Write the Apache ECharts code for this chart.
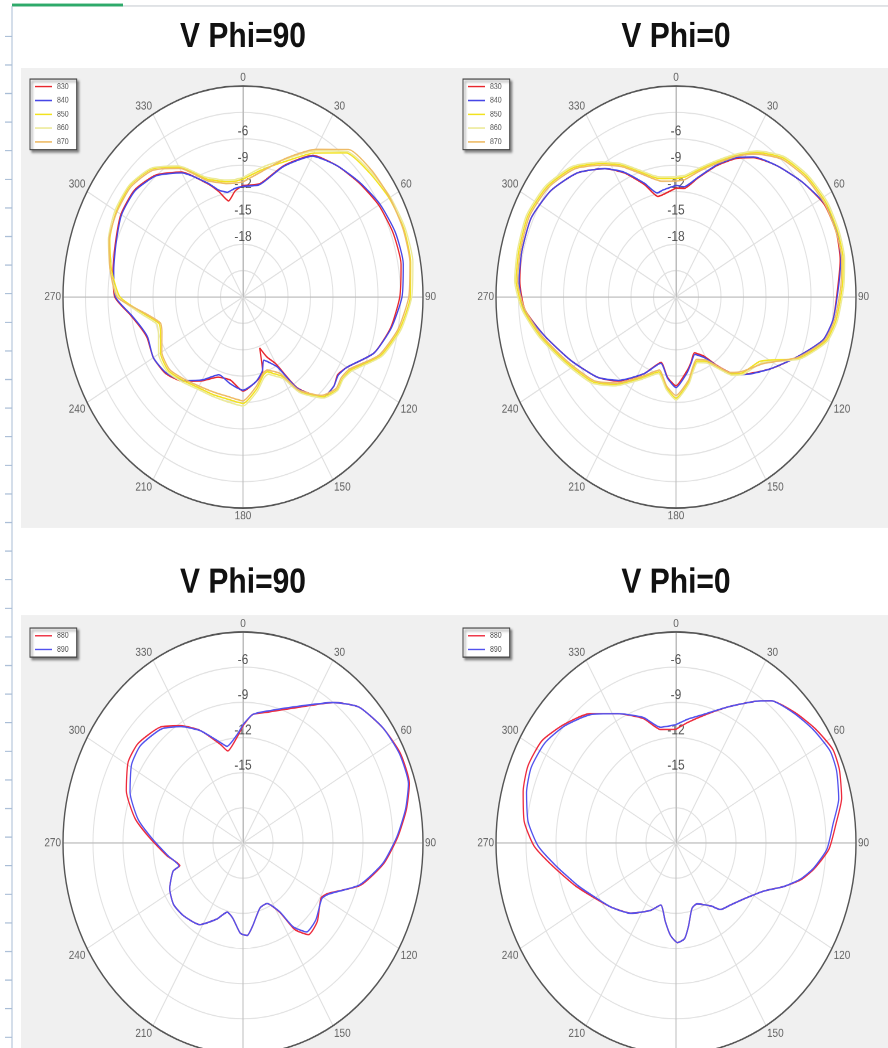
<!DOCTYPE html>
<html>
<head>
<meta charset="utf-8" />
<title>V Phi</title>
<script src="https://cdn.jsdelivr.net/npm/echarts@6/dist/echarts.min.js"></script>
<style>
  html, body { margin: 0; padding: 0; background: #fff; overflow: hidden; }
  /* the source screenshot is stretched vertically, so the whole chart is scaled in y */
  #main { position: absolute; left: 0; top: 0; width: 888px; height: 894px;
          transform: scaleY(1.17226); transform-origin: 0 0; }
</style>
</head>
<body>
<div id="main"></div>
<script type="text/javascript">
// ---- data (dB, angle in degrees clockwise from top) ----
var topFreqs = ['830', '840', '850', '860', '870'];
var bottomFreqs = ['880', '890'];
var topRadiusLabels = [-6, -9, -12, -15, -18];
var bottomRadiusLabels = [-6, -9, -12, -15];

// upper left: V Phi=90
var tlAngles = [0,10,20,30,40,50,60,70,80,90, 100,110,120,125,130,137,145,150,155,159,
  163,170,180,190,200,210,220,230,240,250, 255,262,270,280,290,300,310,320,330,340, 345,350,355];
var tl830 = [-11.3,-10.9,-8.1,-5.4,-4.5,-3.8,-3.1,-2.7,-2.6,-3.1, -4.0,-5.4,-8.0,-8.6,-8.2,-8.4,-11.4,-15.2,-16.5,-17.8,
  -15.0,-14.2,-13.3,-14.4,-14.3,-13.0,-11.5,-10.5,-10.2,-10.4, -10.0,-8.9,-6.9,-6.4,-5.9,-5.2,-5.1,-5.9,-7.6,-10.3, -11.6,-12.9,-11.9];
var tl840 = [-11.4,-11.0,-8.2,-5.5,-4.5,-3.7,-2.9,-2.4,-2.3,-2.8, -3.9,-5.4,-8.0,-8.5,-8.2,-8.4,-11.3,-14.8,-15.8,-16.3,
  -15.2,-14.2,-13.4,-14.0,-14.6,-13.1,-11.6,-10.6,-10.2,-10.5, -10.1,-9.0,-7.0,-6.5,-6.0,-5.3,-5.2,-6.0,-7.7,-10.2, -11.4,-11.9,-11.6];
var tl850 = [-10.6,-9.3,-7.6,-5.1,-2.6,-2.0,-1.5,-1.2,-1.3,-1.7, -2.8,-4.5,-7.4,-7.8,-7.6,-8.5,-10.9,-13.6,-14.4,-14.9,
  -14.7,-13.4,-11.9,-12.2,-12.2,-12.1,-11.6,-11.0,-11.3,-12.3, -12.4,-10.6,-7.6,-6.2,-5.1,-4.5,-4.3,-5.0,-6.9,-9.7, -10.3,-10.7,-10.8];
var tl860 = [-10.4,-9.0,-7.3,-4.8,-2.4,-1.8,-1.3,-1.0,-1.0,-1.5, -2.6,-4.3,-7.2,-7.7,-7.5,-8.3,-10.7,-13.3,-14.1,-14.6,
  -14.4,-13.1,-11.6,-11.9,-12.0,-11.9,-11.4,-10.8,-11.0,-12.0, -12.1,-10.3,-7.4,-6.0,-4.9,-4.3,-4.2,-4.9,-6.8,-9.5, -10.1,-10.5,-10.6];
var tl870 = [-10.9,-9.5,-7.2,-4.6,-2.1,-1.6,-1.4,-1.3,-1.4,-1.9, -3.0,-4.7,-7.6,-8.0,-7.8,-8.7,-11.1,-13.9,-14.7,-15.1,
  -14.9,-13.7,-12.2,-12.5,-12.5,-12.3,-11.8,-11.2,-11.5,-12.5, -12.6,-10.8,-7.2,-6.0,-5.0,-4.6,-4.5,-5.2,-7.1,-9.9, -10.5,-10.9,-11.0];

// upper right: V Phi=0
var trAngles = [0,5,12,20,27,33,42,52,62,71, 79,87,97,104,113,123,134,140,145,151,
  159,165,170,180,187,195,206,219,229,243, 256,266,275,284,295,306,317,327,334,342, 348,352];
var tr830 = [-11.6,-11.6,-10.2,-8.1,-6.3,-5.1,-3.9,-2.7,-1.6,-1.4, -1.7,-2.4,-2.9,-3.8,-6.5,-9.0,-11.4,-12.8,-14.5,-16.3,
  -17.2,-16.3,-15.5,-13.9,-14.8,-16.3,-14.3,-11.7,-10.1,-8.2, -5.9,-3.8,-3.1,-2.8,-2.7,-3.4,-4.7,-6.6,-8.3,-10.6, -12.3,-12.2];
var tr840 = [-11.3,-11.4,-10.1,-8.0,-6.2,-5.0,-3.9,-2.7,-1.5,-1.3, -1.6,-2.3,-2.9,-3.8,-6.5,-9.0,-11.3,-12.7,-14.4,-16.1,
  -17.0,-16.2,-15.3,-13.7,-14.7,-16.2,-14.3,-11.8,-10.1,-8.2, -5.9,-3.7,-3.0,-2.8,-2.7,-3.4,-4.7,-6.6,-8.2,-10.4, -11.9,-11.7];
var tr850 = [-10.5,-10.3,-9.2,-7.6,-5.9,-4.4,-2.7,-1.8,-1.3,-1.2, -1.3,-1.8,-2.5,-3.4,-6.2,-10.6,-11.6,-12.6,-14.2,-15.6,
  -16.2,-15.4,-14.2,-12.5,-13.6,-15.2,-13.8,-11.2,-9.3,-7.6, -5.4,-3.6,-2.6,-2.4,-2.2,-2.7,-3.9,-5.9,-7.3,-9.1, -10.1,-10.4];
var tr860 = [-10.3,-10.1,-9.0,-7.4,-5.7,-4.2,-2.5,-1.6,-1.1,-1.0, -1.1,-1.6,-2.3,-3.2,-6.0,-10.3,-11.4,-12.4,-14.0,-15.4,
  -16.0,-15.2,-14.0,-12.3,-13.4,-15.0,-13.6,-11.0,-9.1,-7.4, -5.2,-3.4,-2.4,-2.2,-2.0,-2.5,-3.7,-5.7,-7.1,-8.9, -9.9,-10.2];
var tr870 = [-10.8,-10.6,-9.4,-7.8,-6.0,-4.6,-2.9,-2.0,-1.5,-1.4, -1.5,-2.0,-2.7,-3.6,-6.4,-10.1,-11.8,-12.8,-14.4,-15.8,
  -16.4,-15.6,-14.4,-12.8,-13.8,-15.4,-14.0,-11.4,-9.5,-7.8, -5.6,-3.8,-2.8,-2.6,-2.4,-2.9,-4.1,-6.1,-7.5,-9.3, -10.3,-10.7];

// lower left: V Phi=90
var blAngles = [0,5,12,26,37,45,55,64,73,80, 88,97,107,117,121,132,140,145,148,155,
  163,172,177,182,189,195,202,212,224,233, 242,251,253,262,273,281,291,301,309,320, 328,336,345,349,356];
var bl880 = [-11.0,-10.0,-9.6,-8.1,-6.0,-4.6,-3.9,-3.5,-3.6,-4.4, -5.5,-6.8,-8.7,-11.5,-11.9,-11.0,-10.8,-12.0,-14.0,-15.3,
  -15.2,-13.9,-13.1,-13.3,-14.5,-14.9,-14.0,-12.8,-12.4,-12.3, -12.7,-13.6,-14.4,-13.3,-11.6,-10.0,-8.5,-7.6,-7.5,-8.1, -9.2,-10.5,-12.3,-13.0,-12.0];
var bl890 = [-10.9,-10.0,-9.5,-8.0,-6.0,-4.6,-3.9,-3.6,-3.7,-4.5, -5.6,-6.9,-8.8,-11.4,-11.8,-11.2,-11.1,-12.3,-14.1,-15.3,
  -15.2,-13.9,-13.1,-13.3,-14.5,-14.9,-14.0,-12.8,-12.4,-12.3, -12.7,-13.6,-14.3,-13.4,-11.8,-10.3,-8.9,-8.0,-7.8,-8.3, -9.3,-10.5,-12.1,-12.6,-11.8];

// lower right: V Phi=0
var brAngles = [0,6,14,24,33,38,47,55,63,69, 77,84,92,99,104,109,115,125,134,142,
  147,158,164,170,174,179,184,189,196,204, 217,230,241,250,261,269,277,286,294,303, 312,322,332,343,351];
var br880 = [-11.3,-10.7,-9.8,-8.3,-6.6,-5.6,-4.7,-4.0,-3.4,-3.5, -4.0,-4.9,-5.7,-7.0,-8.1,-9.6,-11.3,-12.7,-13.4,-13.8,
  -14.6,-15.4,-15.2,-13.8,-12.8,-12.5,-13.1,-14.2,-15.5,-14.7, -13.5,-12.5,-11.5,-10.3,-8.5,-6.8,-5.7,-5.1,-4.8,-5.0, -5.9,-7.0,-8.5,-9.9,-11.2];
var br890 = [-10.9,-10.4,-9.7,-8.3,-6.6,-5.6,-4.8,-4.2,-3.7,-3.8, -4.3,-5.2,-5.9,-7.1,-8.2,-9.6,-11.3,-12.7,-13.4,-13.8,
  -14.6,-15.4,-15.2,-13.8,-12.8,-12.5,-13.1,-14.2,-15.5,-14.7, -13.5,-12.5,-11.6,-10.5,-8.8,-7.2,-6.1,-5.45,-5.15,-5.35, -6.05,-7.1,-8.5,-9.8,-11.0];

var colors = { '830': '#e8262c', '840': '#4646e6', '850': '#f2e21e', '860': '#ecea98', '870': '#eebb66',
               '880': '#ee2a3c', '890': '#5252ee' };

// ---- layout (page pixels; y is divided by the stretch factor) ----
var sy = 1048 / 894;
function ly(y) { return y / sy; }

var polarRadius = 180;
var panels = [
  { title: 'V Phi=90', cx: 243, cy: 297, min: -24, max: 0, labels: topRadiusLabels, legendLeft: 30, legendTop: 79,
    angles: tlAngles, names: topFreqs, values: [tl830, tl840, tl850, tl860, tl870] },
  { title: 'V Phi=0', cx: 676, cy: 297, min: -24, max: 0, labels: topRadiusLabels, legendLeft: 463, legendTop: 79,
    angles: trAngles, names: topFreqs, values: [tr830, tr840, tr850, tr860, tr870] },
  { title: 'V Phi=90', cx: 243, cy: 843, min: -21, max: -3, labels: bottomRadiusLabels, legendLeft: 30, legendTop: 628,
    angles: blAngles, names: bottomFreqs, values: [bl880, bl890] },
  { title: 'V Phi=0', cx: 676, cy: 843, min: -21, max: -3, labels: bottomRadiusLabels, legendLeft: 463, legendTop: 628,
    angles: brAngles, names: bottomFreqs, values: [br880, br890] }
];
var titleY = [37, 37, 583, 583];

var myChart = echarts.init(document.getElementById('main'), null, { devicePixelRatio: 2 });

var graphic = [
  // grey plot panels
  { type: 'rect', z: -100, shape: { x: 21, y: ly(68), width: 867, height: ly(528) - ly(68) }, style: { fill: '#f0f0f0' } },
  { type: 'rect', z: -100, shape: { x: 21, y: ly(615), width: 867, height: 894 - ly(615) }, style: { fill: '#f0f0f0' } },
  // spreadsheet edges behind the picture
  { type: 'line', z: -90, shape: { x1: 12, y1: ly(6), x2: 888, y2: ly(6) }, style: { stroke: '#cfd3d8', lineWidth: 1 } },
  { type: 'line', z: -90, shape: { x1: 12, y1: ly(5), x2: 123, y2: ly(5) }, style: { stroke: '#2eaa6a', lineWidth: 2.5 } },
  { type: 'line', z: -90, shape: { x1: 12, y1: ly(6), x2: 12, y2: 894 }, style: { stroke: '#a9bdd6', lineWidth: 1 } }
];
for (var t = 0; t < 36; t++) {
  var yy = ly(36.3 + t * 28.6);
  graphic.push({ type: 'line', z: -90, shape: { x1: 5, y1: yy, x2: 12, y2: yy }, style: { stroke: '#a9bdd6', lineWidth: 1 } });
}

var polar = [], angleAxis = [], radiusAxis = [], legend = [], series = [];

panels.forEach(function (p, i) {
  graphic.push({
    type: 'text', x: p.cx, y: ly(titleY[i]),
    style: { text: p.title, fill: '#111', font: 'bold 30px "Liberation Sans", Arial, sans-serif',
             align: 'center', verticalAlign: 'middle' }
  });
  // white face of the plot, under the grid lines
  graphic.push({ type: 'circle', z: -80, shape: { cx: p.cx, cy: ly(p.cy), r: polarRadius }, style: { fill: '#fff' } });

  polar.push({ center: [p.cx, ly(p.cy)], radius: polarRadius });

  angleAxis.push({
    polarIndex: i, type: 'value', min: 0, max: 360, interval: 30, startAngle: 90, clockwise: true,
    axisLine: { lineStyle: { color: '#555', width: 1.4 } },
    axisTick: { show: false },
    axisLabel: { color: '#666', fontSize: 10, margin: 2,
                 formatter: function (v) { return v === 360 ? '' : String(v); } },
    splitLine: { lineStyle: { color: ['#bdbdbd', '#e0e0e0', '#e0e0e0'], width: 1 } }
  });

  var shown = p.labels;
  radiusAxis.push({
    polarIndex: i, type: 'value', min: p.min, max: p.max, interval: 3,
    axisLine: { show: true, lineStyle: { color: '#bdbdbd' } },
    axisTick: { show: false },
    axisLabel: { color: '#555', fontSize: 12, margin: 0, align: 'center', verticalAlign: 'bottom',
                 formatter: function (v) { return shown.indexOf(v) >= 0 ? String(v) : ''; } },
    splitLine: { lineStyle: { color: '#e2e2e2' } }
  });

  legend.push({
    data: p.names, orient: 'vertical', left: p.legendLeft, top: ly(p.legendTop),
    icon: 'path://M0,0 H40 V3 H0 Z',
    itemWidth: 17, itemHeight: 8, itemGap: 4.8, padding: [3, 8, 3, 5],
    backgroundColor: '#fff', borderColor: '#444', borderWidth: 1,
    shadowColor: 'rgba(0,0,0,0.45)', shadowBlur: 2, shadowOffsetX: 2, shadowOffsetY: 2,
    selectedMode: false,
    textStyle: { fontSize: 7, color: '#555' }
  });

  p.names.forEach(function (name, k) {
    var vals = p.values[k];
    var data = p.angles.map(function (a, j) { return [vals[j], a]; });
    data.push([vals[0], 360]); // close the loop
    series.push({
      name: name, type: 'line', coordinateSystem: 'polar', polarIndex: i,
      symbol: 'none', smooth: 0.2,
      lineStyle: { width: 1.3, color: colors[name] },
      itemStyle: { color: colors[name] },
      data: data
    });
  });
});

var option = {
  animation: false,
  backgroundColor: '#fff',
  textStyle: { fontFamily: '"Liberation Sans", Arial, sans-serif' },
  graphic: graphic,
  legend: legend,
  polar: polar,
  angleAxis: angleAxis,
  radiusAxis: radiusAxis,
  series: series
};

myChart.setOption(option);
</script>
</body>
</html>
